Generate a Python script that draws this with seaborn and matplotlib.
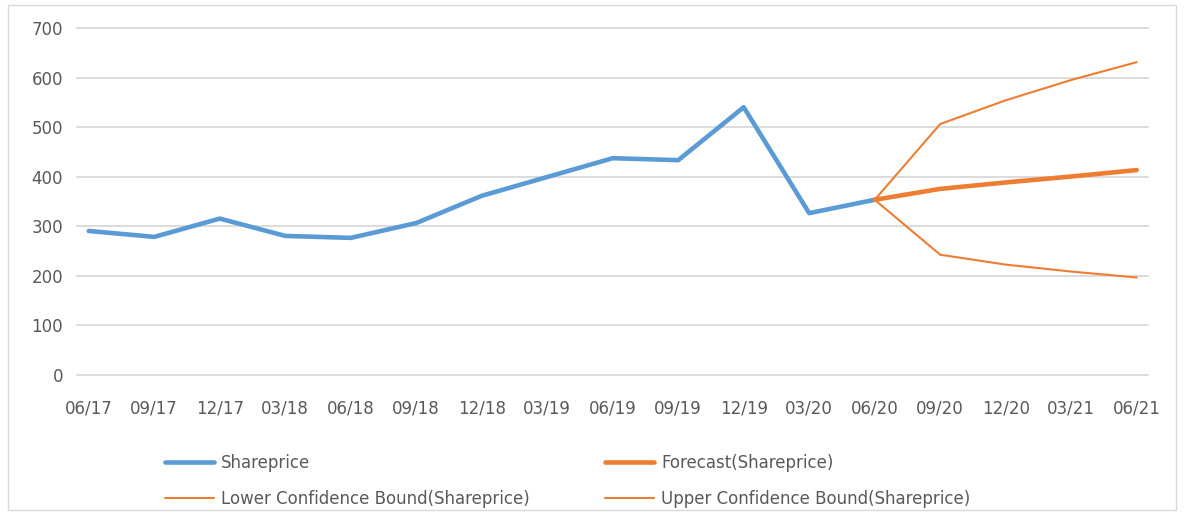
import matplotlib
matplotlib.use("Agg")
import matplotlib.pyplot as plt
import pandas as pd
import seaborn as sns
from matplotlib.patches import Rectangle

quarters = ["06/17", "09/17", "12/17", "03/18", "06/18", "09/18", "12/18", "03/19",
            "06/19", "09/19", "12/19", "03/20", "06/20", "09/20", "12/20", "03/21", "06/21"]
shareprice = [290, 278, 315, 280, 276, 306, 361, 399, 437, 433, 540, 326, 353]
forecast = [353, 375, 388, 400, 413]
lower_bound = [353, 242, 222, 208, 196]
upper_bound = [353, 506, 554, 595, 631]

sns.set_theme(style="white")
plt.rcParams["font.family"] = ["DejaVu Sans"]

blue = "#5B9BD5"
orange = "#ED7D31"
text_grey = "#595959"

hist = pd.DataFrame({"pos": range(len(shareprice)), "value": shareprice})
start = len(shareprice) - 1
fc = pd.DataFrame({
    "pos": range(start, start + len(forecast)),
    "forecast": forecast,
    "lower": lower_bound,
    "upper": upper_bound,
})

fig = plt.figure(figsize=(11.84, 5.14), dpi=100)
ax = fig.add_axes([0.065, 0.2714, 0.905, 0.6741])

sns.lineplot(data=hist, x="pos", y="value", ax=ax, color=blue, linewidth=3.3,
             label="Shareprice")
sns.lineplot(data=fc, x="pos", y="forecast", ax=ax, color=orange, linewidth=3.3,
             label="Forecast(Shareprice)")
sns.lineplot(data=fc, x="pos", y="lower", ax=ax, color=orange, linewidth=1.5,
             label="Lower Confidence Bound(Shareprice)")
sns.lineplot(data=fc, x="pos", y="upper", ax=ax, color=orange, linewidth=1.5,
             label="Upper Confidence Bound(Shareprice)")

ax.set_xlim(-0.18, len(quarters) - 1 + 0.18)
ax.set_ylim(0, 700)
ax.set_yticks(range(0, 701, 100))
ax.set_xticks(range(len(quarters)))
ax.set_xticklabels(quarters)
ax.set_xlabel("")
ax.set_ylabel("")
ax.yaxis.grid(True, color="#D9D9D9", linewidth=1.3)
for gl in ax.get_ygridlines():
    gl.set_clip_on(False)
ax.set_axisbelow(True)
for s in ax.spines.values():
    s.set_visible(False)
ax.tick_params(axis="both", length=0, labelsize=12, labelcolor=text_grey)
ax.tick_params(axis="x", pad=18)
ax.tick_params(axis="y", pad=10)

# row-major legend: Shareprice | Forecast / Lower | Upper
handles, labels = ax.get_legend_handles_labels()
ax.get_legend().remove()
order = [0, 2, 1, 3]
fig.legend([handles[i] for i in order], [labels[i] for i in order], ncol=2,
           loc="upper left", bbox_to_anchor=(0.1336, 0.130),
           frameon=False, fontsize=12, labelcolor=text_grey, handlelength=2.93,
           handletextpad=0.42, columnspacing=4.55, borderaxespad=0, labelspacing=1.1)

fig.patches.append(Rectangle((8 / 1184, 4 / 514), 1168 / 1184, 505 / 514,
                             transform=fig.transFigure, fill=False,
                             edgecolor="#D9D9D9", linewidth=1))

fig.savefig("out.png", dpi=100)
